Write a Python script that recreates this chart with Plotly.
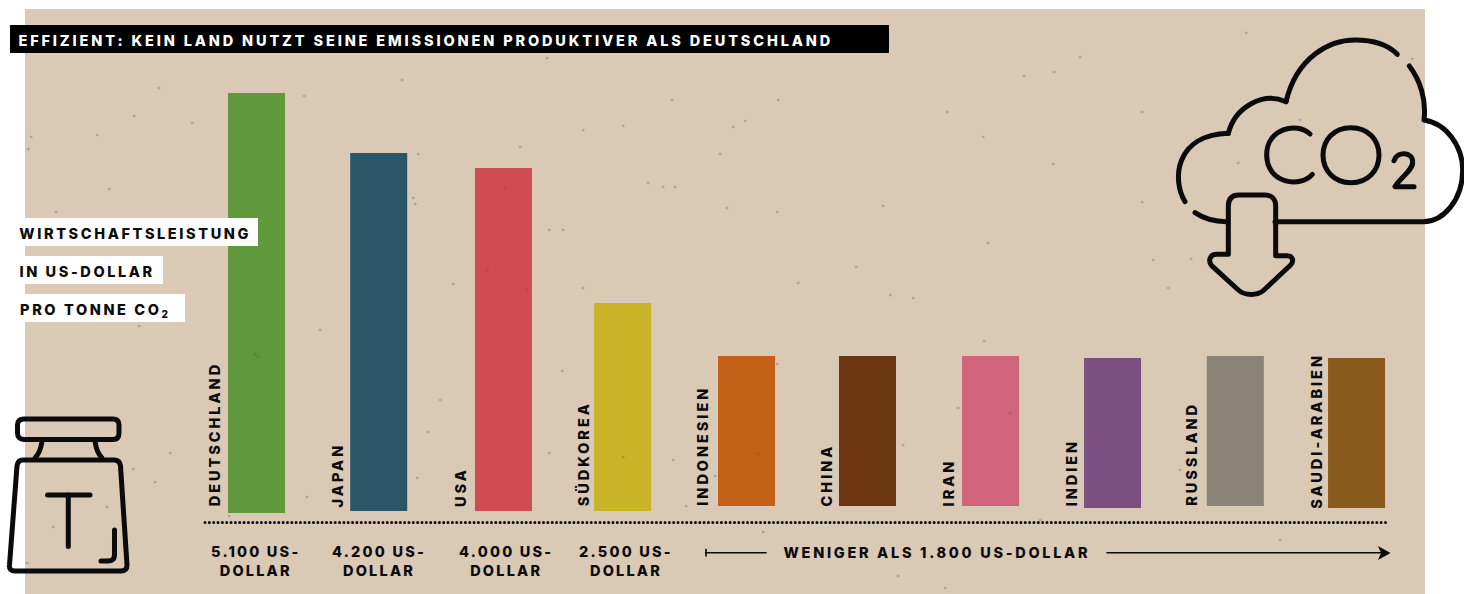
import plotly.graph_objects as go

W, H = 1464, 594
PAPER = "#d9c9b5"
INK = "#0b0b0b"
FONT = "Inter"

# ---------- chart data ----------
categories = ["DEUTSCHLAND", "JAPAN", "USA", "SÜDKOREA", "INDONESIEN",
              "CHINA", "IRAN", "INDIEN", "RUSSLAND", "SAUDI-ARABIEN"]
# bar lengths as drawn, in US-Dollar on the axis of the tallest bar
values = [5100, 4347, 4165, 2526, 1821, 1821, 1821, 1821, 1821, 1821]
# small offsets of the bar feet above the common dotted baseline, same unit
feet = [-24, 0, 0, 0, 61, 61, 61, 36, 61, 36]
colors = ["#5f983d", "#2b5668", "#cf4c55", "#c9b327", "#c46117",
          "#6c3613", "#cf647a", "#79507f", "#8b8375", "#8a5a1d"]
shifts = [0, 0, 0.021, -0.004, 0.010, 0, 0.007, 0.005, 0.010, 0.002]
value_labels = ["5.100 US-<br>DOLLAR", "4.200 US-<br>DOLLAR",
                "4.000 US-<br>DOLLAR", "2.500 US-<br>DOLLAR"]
title = "EFFIZIENT: KEIN LAND NUTZT SEINE EMISSIONEN PRODUKTIVER ALS DEUTSCHLAND"
axis_lines = ["WIRTSCHAFTSLEISTUNG", "IN US-DOLLAR", "PRO TONNE CO<sub>2</sub>"]
rest_label = "WENIGER ALS 1.800 US-DOLLAR"

# paper flecks seen in the reference (decoration only)
flecks = [(134, 116), (159, 88), (28, 149), (109, 189), (56, 212), (139, 326), (192, 123),
          (97, 135), (31, 137), (170, 453), (133, 469), (155, 482), (107, 507), (53, 527),
          (27, 563), (229, 516), (428, 432), (417, 478), (307, 497), (1246, 33), (1191, 259),
          (1238, 163), (1412, 59), (898, 576), (945, 588), (763, 532), (255, 354), (258, 357),
          (547, 58), (402, 80), (304, 96), (672, 100), (623, 126), (583, 130), (733, 127),
          (418, 154), (520, 147), (387, 192), (413, 198), (415, 204), (363, 252), (675, 187),
          (663, 187), (648, 183), (563, 230), (549, 230), (583, 288), (453, 284), (727, 208),
          (720, 154), (505, 188), (487, 270), (527, 290), (1024, 76), (1054, 72), (947, 112),
          (745, 121), (778, 100), (983, 137), (1053, 164), (883, 206), (777, 212), (890, 295),
          (913, 298), (856, 267), (798, 283), (984, 341), (1153, 260), (1168, 288), (1142, 202),
          (1142, 112), (1080, 57), (988, 243), (562, 371), (549, 453), (673, 460), (686, 506),
          (715, 476), (777, 364), (903, 445), (958, 408), (888, 462), (758, 454), (623, 457),
          (1010, 413), (1300, 120), (1040, 520), (1180, 470), (1280, 540), (440, 400), (320, 330)]

# ---------- helpers: pixel position -> paper fraction ----------
def X(px):
    return px / W

def Y(py):
    return 1 - py / H

def path_px(cmds):
    """cmds: list of tuples (letter, x1, y1, x2, y2, ...) in pixels."""
    out = []
    for c in cmds:
        pts = c[1:]
        s = c[0]
        for i in range(0, len(pts), 2):
            s += f"{X(pts[i]):.5f},{Y(pts[i + 1]):.5f} "
        out.append(s)
    return " ".join(out)

def zoomed(ox, oy, cmds):
    """Same, with coordinates given in a 3x crop whose corner is (ox, oy)."""
    res = []
    for c in cmds:
        pts = c[1:]
        new = [c[0]]
        for i in range(0, len(pts), 2):
            new += [ox + pts[i] / 3, oy + pts[i + 1] / 3]
        res.append(tuple(new))
    return path_px(res)

shapes = []

def rect(x0, y0, x1, y1, fill, layer="above"):
    shapes.append(dict(type="rect", xref="paper", yref="paper", layer=layer,
                       x0=X(x0), x1=X(x1), y0=Y(y0), y1=Y(y1),
                       fillcolor=fill, line=dict(width=0)))

def stroke(path, width=5, fill="rgba(0,0,0,0)", color=INK, layer="above"):
    shapes.append(dict(type="path", xref="paper", yref="paper", layer=layer, path=path,
                       fillcolor=fill, line=dict(color=color, width=width)))

def line(x0, y0, x1, y1, width=1.6, dash="solid", color=INK):
    shapes.append(dict(type="line", xref="paper", yref="paper", layer="above",
                       x0=X(x0), x1=X(x1), y0=Y(y0), y1=Y(y1),
                       line=dict(color=color, width=width, dash=dash)))

annotations = []

def text(s, cx, cy, size=14.5, color=INK, angle=0):
    annotations.append(dict(text=s, xref="paper", yref="paper", x=X(cx), y=Y(cy),
                            xanchor="center", yanchor="middle", showarrow=False,
                            textangle=angle, align="center",
                            font=dict(family=FONT, size=size, color=color, weight=800)))

# ---------- paper, flecks, header, boxes ----------
rect(25, 9, 1425, 594, PAPER, layer="below")
stroke(" ".join(path_px([("M", fx, fy), ("L", fx + 0.4, fy)]) for fx, fy in flecks),
       width=2.4, color="rgba(80,80,80,0.3)")
rect(10, 25, 889, 53, "#000000")
text(title, 425.5, 40.5, color="#ffffff")
rect(25, 218, 258, 246, "#ffffff")
rect(25, 256, 163, 284, "#ffffff")
rect(25, 294, 185, 322, "#ffffff")
text(axis_lines[0], 134.5, 233.5)
text(axis_lines[1], 87.5, 271.5)
text(axis_lines[2], 95.5, 310)

# ---------- category labels beside the bars ----------
label_x = [214, 337, 459.5, 582, 702.5, 826, 948, 1071, 1191.5, 1315.5]
label_mid = [434, 475, 487, 453.5, 445.5, 475, 482.5, 472.5, 454.5, 431]
for name, lx, ly in zip(categories, label_x, label_mid):
    text(name, lx, ly, angle=-90)

# ---------- baseline, value labels, range arrow ----------
line(205, 522.5, 1386, 522.5, width=3, dash="0.01px,4.33px")
for lab, cx in zip(value_labels, [255.5, 379, 506, 626]):
    text(lab, cx, 561)
text(rest_label, 937, 552)
line(706, 552.8, 766, 552.8)
line(706, 549.5, 706, 556)
line(1107, 552.8, 1382, 552.8)
shapes.append(dict(type="path", xref="paper", yref="paper", layer="above",
                   path=path_px([("M", 1390.5, 553), ("L", 1378, 546), ("L", 1381, 553),
                                 ("L", 1378, 560), ("Z",)]),
                   fillcolor=INK, line=dict(width=0)))

# ---------- weight icon ----------
stroke(path_px([("M", 24, 419), ("L", 113, 419), ("C", 117, 419, 119, 421, 119, 425),
                ("L", 119, 433), ("C", 119, 437, 117, 439.5, 113, 439.5),
                ("L", 24, 439.5), ("C", 20, 439.5, 17.5, 437, 17.5, 433),
                ("L", 17.5, 425), ("C", 17.5, 421, 20, 419, 24, 419), ("Z",)]))
stroke(path_px([("M", 42, 441), ("C", 41, 449, 39, 454, 35, 458)]))
stroke(path_px([("M", 95, 441), ("C", 96, 449, 98, 454, 102, 458)]))
stroke(path_px([("M", 23, 460), ("L", 114, 460), ("C", 118, 460, 120, 462, 120.5, 466),
                ("L", 127, 565), ("C", 127, 569, 125, 571, 121, 571),
                ("L", 15, 571), ("C", 11, 571, 9, 569, 9.5, 565),
                ("L", 17, 466), ("C", 17.5, 462, 19, 460, 23, 460), ("Z",)]))
stroke(path_px([("M", 47.5, 495), ("L", 90, 495)]))
stroke(path_px([("M", 68.3, 495), ("L", 68.3, 546.5)]))
stroke(path_px([("M", 114.5, 530), ("L", 114.5, 555), ("C", 114.5, 559, 112, 561, 108, 561),
                ("L", 101, 561)]))

# ---------- CO2 cloud icon ----------
OX, OY = 1160, 20
stroke(zoomed(OX, OY, [("M", 75, 545), ("C", 35, 480, 45, 345, 205, 340)]))
stroke(zoomed(OX, OY, [("M", 205, 340), ("C", 225, 260, 310, 215, 378, 245)]))
stroke(zoomed(OX, OY, [("M", 378, 245), ("C", 410, 110, 510, 60, 585, 60),
                       ("C", 640, 60, 685, 75, 712, 103)]))
stroke(zoomed(OX, OY, [("M", 748, 138), ("C", 780, 180, 800, 240, 792, 300),
                       ("C", 860, 310, 908, 380, 908, 450),
                       ("C", 908, 540, 850, 605, 790, 605), ("L", 345, 605)]))
stroke(zoomed(OX, OY, [("M", 200, 605), ("C", 165, 605, 130, 595, 105, 578)]))
stroke(zoomed(OX, OY, [("M", 450, 342), ("C", 410, 305, 320, 325, 320, 405),
                       ("C", 320, 490, 420, 505, 457, 463)]))
stroke(zoomed(OX, OY, [("M", 573, 323), ("C", 625, 323, 657, 360, 657, 405),
                       ("C", 657, 450, 625, 488, 573, 488),
                       ("C", 521, 488, 489, 450, 489, 405),
                       ("C", 489, 360, 521, 323, 573, 323), ("Z",)]))
stroke(zoomed(OX, OY, [("M", 702, 422), ("C", 712, 392, 757, 395, 758, 425),
                       ("C", 760, 450, 722, 472, 705, 500), ("L", 762, 500)]))
stroke(zoomed(OX, OY, [("M", 205, 703), ("L", 205, 558), ("C", 205, 535, 217, 525, 237, 525),
                       ("L", 315, 525), ("C", 335, 525, 347, 537, 347, 558),
                       ("L", 347, 707), ("L", 380, 707), ("C", 398, 707, 403, 722, 392, 735),
                       ("L", 312, 810), ("C", 292, 828, 255, 828, 235, 810),
                       ("L", 155, 737), ("C", 143, 722, 150, 703, 170, 703), ("Z",)]))

# ---------- bars ----------
SLOT = 122.2
BAR_PX = 57
widths = [BAR_PX / SLOT] * len(categories)
offsets = [-BAR_PX / SLOT / 2 + s for s in shifts]
UNIT_PX = 420 / 5100  # pixels per dollar
fig = go.Figure(go.Bar(x=categories, y=values, base=feet, width=widths, offset=offsets,
                       marker=dict(color=colors, line=dict(width=0)), hoverinfo="skip"))
fig.update_layout(
    width=W, height=H, margin=dict(l=0, r=0, t=0, b=0),
    paper_bgcolor="#ffffff", plot_bgcolor="rgba(0,0,0,0)", showlegend=False,
    xaxis=dict(visible=False, type="category", categoryorder="array",
               categoryarray=categories,
               range=[-256.5 / SLOT, (W - 256.5) / SLOT]),
    yaxis=dict(visible=False, range=[-(H - 511) / UNIT_PX, 511 / UNIT_PX]),
    shapes=shapes, annotations=annotations,
)

post = """
document.body.style.margin = '0';
document.body.style.overflow = 'hidden';
document.querySelectorAll('.shapelayer path').forEach(function (p) {
  p.style.strokeLinecap = 'round';
  p.style.strokeLinejoin = 'round';
});
document.querySelectorAll('.annotation-text').forEach(function (t) {
  var s = t.textContent;
  var sp = '2.95px';                                  // rotated country names
  if (s.indexOf('EFFIZIENT') === 0) sp = '2.86px';
  else if (s.indexOf('WENIGER') === 0) sp = '2.7px';
  else if (/^(WIRTSCHAFT|IN US|PRO TONNE)/.test(s)) sp = '2.6px';
  else if (/^[0-9]/.test(s)) sp = '2.2px';
  t.style.letterSpacing = sp;
});
"""
fig.write_html("out.html", post_script=post, config=dict(displayModeBar=False))
